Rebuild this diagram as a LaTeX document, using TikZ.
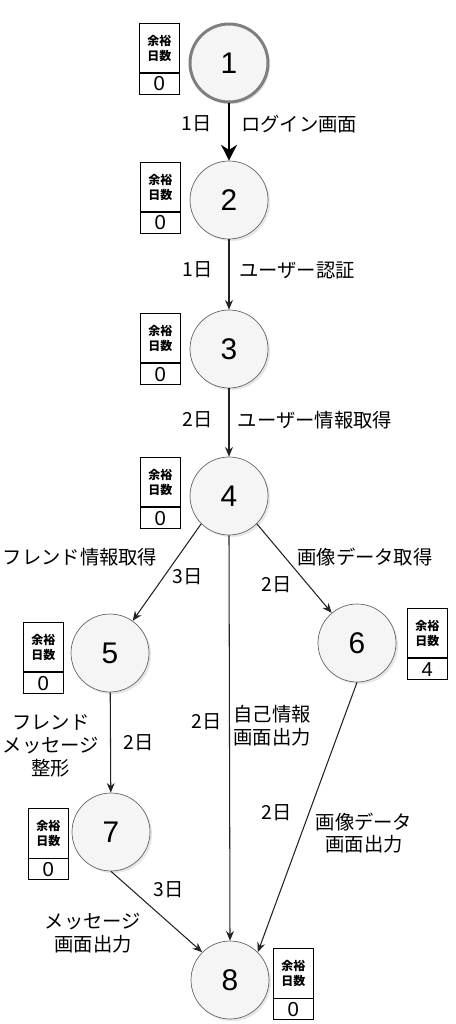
\documentclass[tikz,border=0pt]{standalone}
\usepackage{fontspec}
\setmainfont{Liberation Sans}
\newfontfamily\jp{Noto Sans CJK JP}
\usetikzlibrary{arrows.meta,shadows}

\definecolor{eventfill}{HTML}{F5F5F5}
\definecolor{eventline}{HTML}{666666}
\definecolor{startline}{HTML}{7F7F7F}
\definecolor{edgeline}{HTML}{222222}

\newcommand*{\wmax}{456}
\newcommand*{\hmax}{1024}

\begin{document}
\begin{tikzpicture}
[
	x=0.02cm, y=-0.02cm,
	event/.style={circle,draw=eventline,fill=eventfill,minimum size=1.56cm,inner sep=0pt,
		font=\fontsize{17}{20}\selectfont,
		drop shadow={shadow xshift=1.2pt,shadow yshift=-1.2pt,opacity=0.2}},
	start/.style={event,draw=startline,line width=1.7pt},
	slacktop/.style={draw,anchor=north west,minimum width=0.8cm,minimum height=0.99cm,
		inner sep=0pt,align=center,font=\jp\bfseries\fontsize{6.8}{8.6}\selectfont},
	slackval/.style={draw,anchor=north,minimum width=0.8cm,minimum height=0.42cm,
		inner sep=0pt,font=\fontsize{11.5}{13}\selectfont},
	lbl/.style={align=center,inner sep=0pt,font=\jp\fontsize{11}{13}\selectfont},
	arr/.style={draw=edgeline,-{Stealth[length=5.5pt,width=4.5pt]},line width=0.6pt},
	bigarr/.style={-{Stealth[length=9pt,width=9pt]},line width=1.4pt}
]

	\useasboundingbox (0,0) rectangle (\wmax,\hmax);

	% events
	\node[start] (n1) at (229,63) {1};
	\node[event] (n2) at (229,200) {2};
	\node[event] (n3) at (229,349) {3};
	\node[event] (n4) at (229,496) {4};
	\node[event] (n5) at (110,653) {5};
	\node[event] (n6) at (357,643) {6};
	\node[event] (n7) at (111,832) {7};
	\node[event] (n8) at (230,980) {8};

	% slack boxes
	\node[slacktop] (s1) at (139,23) {余裕\\日数};
	\node[slackval] (v1) at (s1.south) {0};
	\node[slacktop] (s2) at (140,162) {余裕\\日数};
	\node[slackval] (v2) at (s2.south) {0};
	\node[slacktop] (s3) at (140,313) {余裕\\日数};
	\node[slackval] (v3) at (s3.south) {0};
	\node[slacktop] (s4) at (140,457) {余裕\\日数};
	\node[slackval] (v4) at (s4.south) {0};
	\node[slacktop] (s5) at (23,622) {余裕\\日数};
	\node[slackval] (v5) at (s5.south) {0};
	\node[slacktop] (s6) at (407,608) {余裕\\日数};
	\node[slackval] (v6) at (s6.south) {4};
	\node[slacktop] (s7) at (28,808) {余裕\\日数};
	\node[slackval] (v7) at (s7.south) {0};
	\node[slacktop] (s8) at (273,948) {余裕\\日数};
	\node[slackval] (v8) at (s8.south) {0};

	% activities
	\draw[bigarr] (n1) -- (n2);
	\draw[arr] (n2) -- (n3);
	\draw[arr] (n3) -- (n4);
	\draw[arr] (n4.south west) -- (n5);
	\draw[arr] (n4.south) -- (n8.north);
	\draw[arr] (n4.south east) -- (n6);
	\draw[arr] (n5) -- (n7);
	\draw[arr] (n6.south) -- (n8.north east);
	\draw[arr] (n7.south) -- (n8.north west);

	% labels
	\node[lbl] (d12) at (197,124) {1日};
	\node[lbl] (t12) at (299,124) {ログイン画面};
	\node[lbl] (d23) at (198,270) {1日};
	\node[lbl] (t23) at (297,270) {ユーザー認証};
	\node[lbl] (d34) at (198,420) {2日};
	\node[lbl] (t34) at (315,420) {ユーザー情報取得};
	\node[lbl] (t45) at (80,557) {フレンド情報取得};
	\node[lbl] (d45) at (188,577) {3日};
	\node[lbl] (t46) at (365,557) {画像データ取得};
	\node[lbl] (d46) at (277,585) {2日};
	\node[lbl] (d48) at (207,722) {2日};
	\node[lbl] (t48) at (272,726) {自己情報\\画面出力};
	\node[lbl] (t57) at (51,746) {フレンド\\メッセージ\\整形};
	\node[lbl] (d57) at (139,743) {2日};
	\node[lbl] (d68) at (277,813) {2日};
	\node[lbl] (t68) at (364,833) {画像データ\\画面出力};
	\node[lbl] (d78) at (169,890) {3日};
	\node[lbl] (t78) at (93,933) {メッセージ\\画面出力};

\end{tikzpicture}
\end{document}
